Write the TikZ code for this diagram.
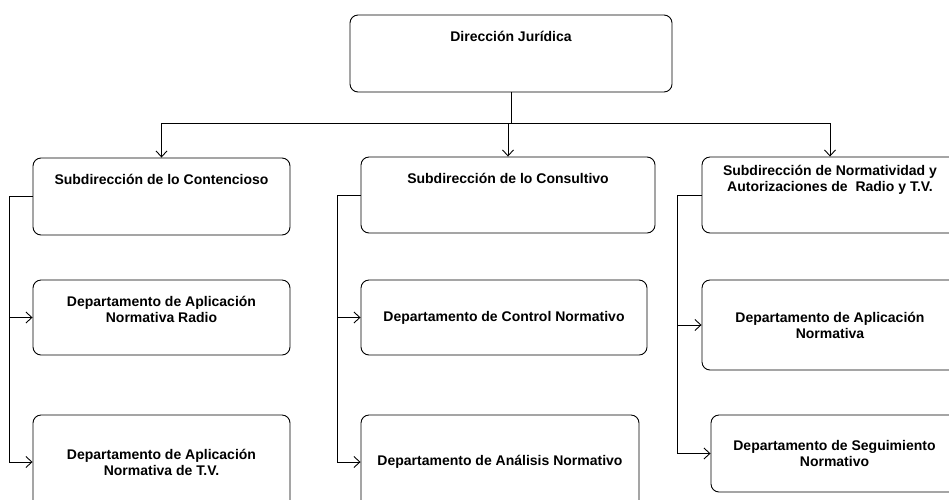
\documentclass[tikz,border=0pt]{standalone}
\usepackage{fontspec}
\setmainfont{Liberation Sans}
\usetikzlibrary{arrows.meta}
\begin{document}
\begin{tikzpicture}[x=1pt,y=-1pt,
  box/.style={draw=black, line width=0.9pt, rounded corners=8pt, inner sep=0pt},
  lbl/.style={font=\fontsize{14}{16}\selectfont\bfseries, align=center, inner sep=0pt},
  link/.style={draw=black, line width=0.9pt},
  arr/.style={link, -{Straight Barb[length=6pt,width=11pt]}}]
\useasboundingbox (0,0) rectangle (949,499);

% boxes (centre, width, height)
\node[box, minimum width=322pt, minimum height=77pt] (top)  at (511,53.5)  {};
\node[box, minimum width=257pt, minimum height=77pt] (sub1) at (161.5,196.5) {};
\node[box, minimum width=294pt, minimum height=76pt] (sub2) at (508,195) {};
\node[box, minimum width=256pt, minimum height=76pt] (sub3) at (830,195) {};
\node[box, minimum width=257pt, minimum height=75pt] (dep1) at (161.5,317.5) {};
\node[box, minimum width=257pt, minimum height=94pt] (dep2) at (161.5,462) {};
\node[box, minimum width=286pt, minimum height=75pt] (dep3) at (504,317.5) {};
\node[box, minimum width=278pt, minimum height=94pt] (dep4) at (500,462) {};
\node[box, minimum width=256pt, minimum height=90pt] (dep5) at (830,325) {};
\node[box, minimum width=247pt, minimum height=77pt] (dep6) at (834.5,453.5) {};

% texts
\node[lbl] (topt)  at ([yshift=-22pt]top.north)  {Dirección Jurídica};
\node[lbl] (sub1t) at ([yshift=-22pt]sub1.north) {Subdirección de lo Contencioso};
\node[lbl] (sub2t) at ([yshift=-22pt]sub2.north) {Subdirección de lo Consultivo};
\node[lbl] (sub3t) at ([yshift=-23pt]sub3.north) {Subdirección de Normatividad y\\Autorizaciones de\ \ Radio y T.V.};
\node[lbl] (dep1t) at ([yshift=-30pt]dep1.north) {Departamento de Aplicación\\Normativa Radio};
\node[lbl] (dep2t) at (dep2.center) {Departamento de Aplicación\\Normativa de T.V.};
\node[lbl] (dep3t) at (dep3.center) {Departamento de Control Normativo};
\node[lbl] (dep4t) at (dep4.center) {Departamento de Análisis Normativo};
\node[lbl] (dep5t) at (dep5.center) {Departamento de Aplicación\\Normativa};
\node[lbl] (dep6t) at (dep6.center) {Departamento de Seguimiento\\Normativo};

% top level to the three sub-directions
\coordinate (bus) at (511,123);
\draw[link] (top.south) -- (top.south |- bus);
\draw[link] (sub1.north |- bus) -- (sub3.north |- bus);
\draw[arr] (sub1.north |- bus) -- (sub1.north);
\draw[arr] (sub2.north |- bus) -- (sub2.north);
\draw[arr] (sub3.north |- bus) -- (sub3.north);

% side rails to the departments
\coordinate (r1) at (9,0);
\coordinate (r2) at (337,0);
\coordinate (r3) at (677,0);
\draw[link] (sub1.west) -- (r1 |- sub1.west) -- (r1 |- dep2.west);
\draw[arr] (r1 |- dep1.west) -- (dep1.west);
\draw[arr] (r1 |- dep2.west) -- (dep2.west);
\draw[link] (sub2.west) -- (r2 |- sub2.west) -- (r2 |- dep4.west);
\draw[arr] (r2 |- dep3.west) -- (dep3.west);
\draw[arr] (r2 |- dep4.west) -- (dep4.west);
\draw[link] (sub3.west) -- (r3 |- sub3.west) -- (r3 |- dep6.west);
\draw[arr] (r3 |- dep5.west) -- (dep5.west);
\draw[arr] (r3 |- dep6.west) -- (dep6.west);
\end{tikzpicture}
\end{document}
